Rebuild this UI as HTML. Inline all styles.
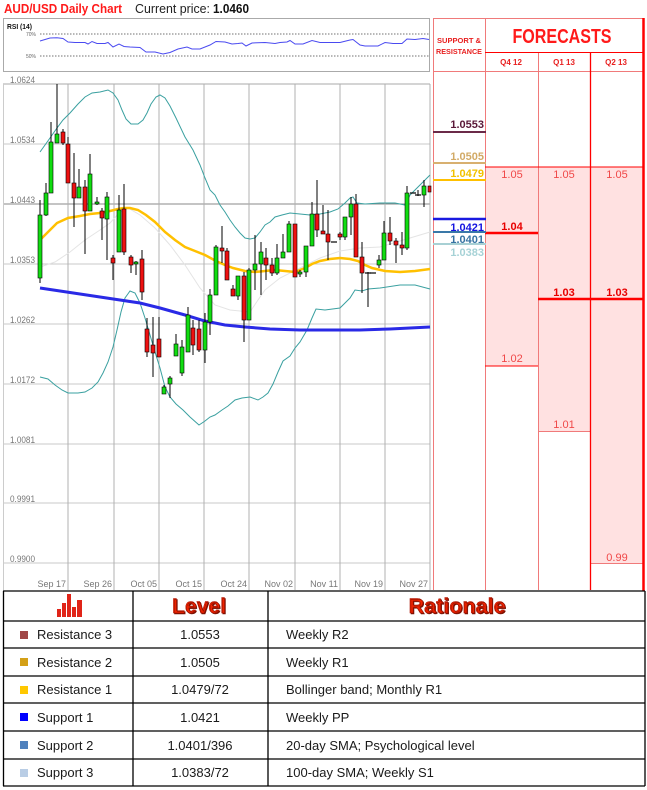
<!DOCTYPE html>
<html><head><meta charset="utf-8"><style>
html,body{margin:0;padding:0;background:#fff;}
svg{display:block;font-family:"Liberation Sans",Arial,sans-serif;}
</style></head><body>
<svg width="647" height="790" viewBox="0 0 647 790" xmlns="http://www.w3.org/2000/svg">
<rect width="647" height="790" fill="#fff"/>
<!-- Header -->
<text x="4" y="13" font-size="13" font-weight="bold" fill="#ff1a1a" textLength="118" lengthAdjust="spacingAndGlyphs">AUD/USD Daily Chart</text>
<text x="135" y="13" font-size="13" fill="#222" textLength="75" lengthAdjust="spacingAndGlyphs">Current price:</text>
<text x="213" y="13" font-size="13" font-weight="bold" fill="#111" textLength="36" lengthAdjust="spacingAndGlyphs">1.0460</text>

<!-- RSI -->
<rect x="3.5" y="18.5" width="426" height="53" fill="#fff" stroke="#aaa"/>
<text x="7" y="29" font-size="7" font-weight="bold" fill="#111" textLength="25" lengthAdjust="spacingAndGlyphs">RSI (14)</text>
<text x="26" y="36" font-size="5" fill="#666">70%</text>
<text x="26" y="58" font-size="5" fill="#666">50%</text>
<line x1="40" y1="34" x2="429" y2="34" stroke="#444" stroke-dasharray="1.5,1.5" stroke-width="0.8"/>
<line x1="40" y1="56" x2="429" y2="56" stroke="#444" stroke-dasharray="1.5,1.5" stroke-width="0.8"/>
<polyline fill="none" stroke="#4a4af0" stroke-width="1" points="40,41 50,38 57,37.7 63,38.5 68,42 75,42.5 85,42.5 88,44 92,41.5 97,43.5 105,43.5 108,42.5 113,47 119,44 124,46.5 130,47 140,47.5 146,52 155,52 163,54 170,52.5 178,49 187,47 192,49 200,49 210,45 216,41.5 225,42 232,44 238,43.5 242,43 246,46 252,43 265,42.5 275,43.5 280,42.5 287,42 290,40.5 295,44 303,44 312,40.5 320,42.5 340,42.5 350,40 353,39.5 360,45 365,46 378,46 385,42.5 393,43.5 402,43.5 407,39 415,39.5 423,38.5 429,39.5"/>

<!-- Main chart grid -->
<g stroke="#c8c8c8" stroke-width="1">
<line x1="3" y1="84" x2="430" y2="84" stroke="#aaa"/>
<line x1="3" y1="144" x2="430" y2="144"/>
<line x1="3" y1="204" x2="430" y2="204" stroke="#8a8a8a"/>
<line x1="3" y1="264" x2="430" y2="264"/>
<line x1="3" y1="324" x2="430" y2="324"/>
<line x1="3" y1="384" x2="430" y2="384"/>
<line x1="3" y1="444" x2="430" y2="444"/>
<line x1="3" y1="503" x2="430" y2="503"/>
<line x1="3" y1="563" x2="430" y2="563"/>
<line x1="3.5" y1="84" x2="3.5" y2="590" stroke="#ccc"/>
<line x1="68" y1="84" x2="68" y2="590" stroke="#b0b0b0"/>
<line x1="114" y1="84" x2="114" y2="590" stroke="#b0b0b0"/>
<line x1="159" y1="84" x2="159" y2="590" stroke="#b0b0b0"/>
<line x1="204" y1="84" x2="204" y2="590" stroke="#b0b0b0"/>
<line x1="249" y1="84" x2="249" y2="590" stroke="#b0b0b0"/>
<line x1="295" y1="84" x2="295" y2="590" stroke="#b0b0b0"/>
<line x1="340" y1="84" x2="340" y2="590" stroke="#b0b0b0"/>
<line x1="385" y1="84" x2="385" y2="590" stroke="#b0b0b0"/>
<line x1="430" y1="84" x2="430" y2="590" stroke="#b0b0b0"/>
</g>
<g font-size="9" fill="#777">
<text x="10" y="83" textLength="25" lengthAdjust="spacingAndGlyphs">1.0624</text>
<text x="10" y="143" textLength="25" lengthAdjust="spacingAndGlyphs">1.0534</text>
<text x="10" y="203" textLength="25" lengthAdjust="spacingAndGlyphs">1.0443</text>
<text x="10" y="263" textLength="25" lengthAdjust="spacingAndGlyphs">1.0353</text>
<text x="10" y="323" textLength="25" lengthAdjust="spacingAndGlyphs">1.0262</text>
<text x="10" y="383" textLength="25" lengthAdjust="spacingAndGlyphs">1.0172</text>
<text x="10" y="443" textLength="25" lengthAdjust="spacingAndGlyphs">1.0081</text>
<text x="10" y="502" textLength="25" lengthAdjust="spacingAndGlyphs">0.9991</text>
<text x="10" y="562" textLength="25" lengthAdjust="spacingAndGlyphs">0.9900</text>
</g>
<g font-size="9" fill="#777" text-anchor="end">
<text x="66" y="587">Sep 17</text>
<text x="112" y="587">Sep 26</text>
<text x="157" y="587">Oct 05</text>
<text x="202" y="587">Oct 15</text>
<text x="247" y="587">Oct 24</text>
<text x="293" y="587">Nov 02</text>
<text x="338" y="587">Nov 11</text>
<text x="383" y="587">Nov 19</text>
<text x="428" y="587">Nov 27</text>
</g>

<!-- Indicator lines -->
<polyline fill="none" stroke="#e4e4e4" stroke-width="1" points="40,267 55,262 70,252 85,240 100,230 110,223 120,212 128,208 140,215 155,228 170,245 185,265 200,288 215,305 230,310 250,312 258,300 265,290 280,278 300,268 320,258 340,251 360,248 380,247 400,241 430,232"/>
<polyline fill="none" stroke="#3aa0a0" stroke-width="1" points="40,152 50,138 57,128 63,120 70,113 78,104 85,97 92,93 100,92 108,90 113,93 118,100 122,110 126,119 131,124 138,124 143,120 147,113 151,104 156,97 160,95 165,98 170,106 176,118 185,137 193,150 200,165 205,178 210,190 215,195 220,205 225,212 230,220 235,227 240,233 245,238 250,239 255,238 260,232 265,225 270,222 275,217 282,215 290,213 300,214 310,215 320,214 330,212 338,209 345,203 350,198 353,197 357,203 365,204 380,203 395,203 405,205 410,195 415,190 420,185 425,180 430,175"/>
<polyline fill="none" stroke="#3aa0a0" stroke-width="1" points="40,377 48,379 55,385 62,390 68,393 78,393 85,392 92,388 98,382 103,373 108,362 113,347 117,330 121,312 125,298 130,291 135,293 140,303 145,318 150,335 155,352 160,368 165,387 170,397 176,404 183,410 190,417 199,425 205,421 210,417 215,415 222,410 228,406 235,400 242,398 250,397 258,400 263,397 268,393 273,384 278,372 283,361 290,356 295,348 300,342 307,330 312,318 316,309 325,310 340,308 350,298 355,290 362,291 368,289 380,288 400,285 415,285 430,289"/>
<polyline fill="none" stroke="#2a2ae6" stroke-width="3" points="40,288 60,291 80,294 100,297 120,300 140,303 160,308 185,315 205,321 225,325 245,327 270,329 300,330 330,330 360,330 390,329 430,327"/>
<polyline fill="none" stroke="#ffc000" stroke-width="2.5" points="40,240 48,232 57,223 68,218 80,216 90,214 100,213 110,211 118,209 124,208 130,208 138,210 146,215 155,222 165,232 175,240 185,247 195,251 205,255 216,261 225,265 233,268 245,271 255,272 265,271 275,270 285,271 295,272 305,268 312,264 320,261 330,259 340,258 350,259 358,261 365,265 372,268 385,271 400,272 415,271 430,269"/>

<!-- Candles: wicks -->
<g stroke="#000" stroke-width="1">
<line x1="40" y1="200" x2="40" y2="283"/><line x1="46" y1="183" x2="46" y2="216"/><line x1="51" y1="122" x2="51" y2="193"/><line x1="57" y1="84" x2="57" y2="143"/><line x1="63" y1="129" x2="63" y2="145"/><line x1="68" y1="137" x2="68" y2="183"/><line x1="74" y1="153" x2="74" y2="227"/><line x1="79" y1="169" x2="79" y2="198"/><line x1="85" y1="180" x2="85" y2="254"/><line x1="90" y1="154" x2="90" y2="211"/><line x1="97" y1="197" x2="97" y2="205"/><line x1="102" y1="208" x2="102" y2="240"/><line x1="107" y1="192" x2="107" y2="260"/><line x1="113" y1="255" x2="113" y2="280"/><line x1="119" y1="195" x2="119" y2="252"/><line x1="124" y1="184" x2="124" y2="255"/><line x1="131" y1="255" x2="131" y2="273"/><line x1="136" y1="261" x2="136" y2="275"/><line x1="142" y1="250" x2="142" y2="300"/><line x1="147" y1="318" x2="147" y2="357"/><line x1="153" y1="317" x2="153" y2="377"/><line x1="159" y1="317" x2="159" y2="357"/><line x1="164" y1="385" x2="164" y2="394"/><line x1="170" y1="376" x2="170" y2="398"/><line x1="176" y1="334" x2="176" y2="356"/><line x1="182" y1="340" x2="182" y2="376"/><line x1="188" y1="307" x2="188" y2="352"/><line x1="193" y1="320" x2="193" y2="355"/><line x1="199" y1="320" x2="199" y2="352"/><line x1="205" y1="313" x2="205" y2="363"/><line x1="210" y1="289" x2="210" y2="335"/><line x1="216" y1="245" x2="216" y2="295"/><line x1="222" y1="226" x2="222" y2="263"/><line x1="227" y1="248" x2="227" y2="280"/><line x1="233" y1="285" x2="233" y2="296"/><line x1="238" y1="276" x2="238" y2="300"/><line x1="244" y1="272" x2="244" y2="342"/><line x1="249" y1="268" x2="249" y2="320"/><line x1="255" y1="235" x2="255" y2="290"/><line x1="261" y1="242" x2="261" y2="295"/><line x1="266" y1="248" x2="266" y2="280"/><line x1="272" y1="258" x2="272" y2="276"/><line x1="277" y1="244" x2="277" y2="275"/><line x1="283" y1="234" x2="283" y2="258"/><line x1="289" y1="221" x2="289" y2="252"/><line x1="295" y1="224" x2="295" y2="277"/><line x1="300" y1="270" x2="300" y2="277"/><line x1="306" y1="246" x2="306" y2="277"/><line x1="312" y1="202" x2="312" y2="246"/><line x1="317" y1="180" x2="317" y2="237"/><line x1="323" y1="205" x2="323" y2="234"/><line x1="328" y1="210" x2="328" y2="260"/><line x1="340" y1="232" x2="340" y2="240"/><line x1="345" y1="217" x2="345" y2="240"/><line x1="351" y1="197" x2="351" y2="235"/><line x1="356" y1="194" x2="356" y2="257"/><line x1="362" y1="242" x2="362" y2="293"/><line x1="368" y1="272" x2="368" y2="307"/><line x1="379" y1="255" x2="379" y2="268"/><line x1="384" y1="221" x2="384" y2="260"/><line x1="390" y1="217" x2="390" y2="245"/><line x1="396" y1="238" x2="396" y2="263"/><line x1="402" y1="232" x2="402" y2="255"/><line x1="407" y1="186" x2="407" y2="250"/><line x1="418" y1="190" x2="418" y2="196"/><line x1="424" y1="180" x2="424" y2="207"/>
<line x1="331" y1="242" x2="337" y2="242" stroke-width="1.2"/><line x1="365" y1="273" x2="371" y2="273" stroke-width="1.2"/><line x1="370" y1="273" x2="376" y2="273" stroke-width="1.2"/><line x1="410" y1="193" x2="416" y2="193" stroke-width="1.2"/><line x1="415" y1="195" x2="421" y2="195" stroke-width="1.2"/>
</g>
<!-- Candles: bodies -->
<g stroke="#000" stroke-width="0.6">
<g fill="#11dd11">
<rect x="38" y="215" width="4" height="63"/><rect x="44" y="193" width="4" height="22"/><rect x="49" y="142" width="4" height="51"/><rect x="55" y="134" width="4" height="9"/><rect x="77" y="187" width="4" height="11"/><rect x="88" y="174" width="4" height="37"/><rect x="95" y="202" width="4" height="2"/><rect x="105" y="197" width="4" height="22"/><rect x="117" y="210" width="4" height="42"/><rect x="134" y="262" width="4" height="2"/><rect x="162" y="387" width="4" height="7"/><rect x="168" y="378" width="4" height="6"/><rect x="174" y="344" width="4" height="12"/><rect x="180" y="347" width="4" height="26"/><rect x="186" y="315" width="4" height="37"/><rect x="203" y="322" width="4" height="28"/><rect x="208" y="295" width="4" height="27"/><rect x="214" y="247" width="4" height="48"/><rect x="236" y="276" width="4" height="20"/><rect x="247" y="270" width="4" height="50"/><rect x="253" y="264" width="4" height="6"/><rect x="259" y="252" width="4" height="12"/><rect x="275" y="258" width="4" height="15"/><rect x="281" y="252" width="4" height="6"/><rect x="287" y="224" width="4" height="28"/><rect x="298" y="272" width="4" height="2"/><rect x="304" y="246" width="4" height="26"/><rect x="310" y="214" width="4" height="32"/><rect x="343" y="217" width="4" height="20"/><rect x="349" y="204" width="4" height="13"/><rect x="377" y="260" width="4" height="5"/><rect x="382" y="233" width="4" height="27"/><rect x="405" y="193" width="4" height="55"/><rect x="422" y="186" width="4" height="9"/>
</g>
<g fill="#ee1111">
<rect x="61" y="132" width="4" height="11"/><rect x="66" y="144" width="4" height="39"/><rect x="72" y="183" width="4" height="15"/><rect x="83" y="187" width="4" height="24"/><rect x="100" y="211" width="4" height="7"/><rect x="111" y="258" width="4" height="5"/><rect x="122" y="209" width="4" height="43"/><rect x="129" y="257" width="4" height="8"/><rect x="140" y="259" width="4" height="33"/><rect x="145" y="329" width="4" height="23"/><rect x="151" y="345" width="4" height="8"/><rect x="157" y="339" width="4" height="18"/><rect x="191" y="328" width="4" height="17"/><rect x="197" y="329" width="4" height="21"/><rect x="220" y="248" width="4" height="3"/><rect x="225" y="251" width="4" height="29"/><rect x="231" y="289" width="4" height="7"/><rect x="242" y="276" width="4" height="44"/><rect x="264" y="258" width="4" height="7"/><rect x="270" y="265" width="4" height="8"/><rect x="293" y="224" width="4" height="53"/><rect x="315" y="214" width="4" height="16"/><rect x="321" y="231" width="4" height="3"/><rect x="326" y="234" width="4" height="8"/><rect x="338" y="234" width="4" height="3"/><rect x="354" y="204" width="4" height="53"/><rect x="360" y="257" width="4" height="16"/><rect x="388" y="233" width="4" height="8"/><rect x="394" y="241" width="4" height="4"/><rect x="400" y="245" width="4" height="3"/><rect x="428" y="186" width="3" height="6"/>
</g>
</g>

<!-- Right panel -->
<rect x="485" y="167" width="53" height="199" fill="#ffe1e1"/>
<rect x="538" y="167" width="52" height="264" fill="#ffe1e1"/>
<rect x="590" y="167" width="53" height="396" fill="#ffe1e1"/>
<g stroke="#f07a7a" stroke-width="1">
<line x1="433" y1="18.5" x2="643" y2="18.5"/>
<line x1="433.5" y1="18" x2="433.5" y2="590"/>
<line x1="485.5" y1="18" x2="485.5" y2="590"/>
<line x1="433" y1="71.5" x2="643" y2="71.5"/>
<line x1="538.5" y1="52" x2="538.5" y2="590"/>
<line x1="538" y1="431.5" x2="590" y2="431.5"/>
<line x1="590" y1="563.5" x2="643" y2="563.5"/>
</g>
<g stroke="#ff0000">
<line x1="485" y1="52.5" x2="643" y2="52.5" stroke-width="1"/>
<line x1="590.5" y1="52" x2="590.5" y2="590" stroke-width="1.3"/>
<line x1="643.5" y1="18" x2="643.5" y2="591" stroke-width="2.5"/>
<line x1="485" y1="167" x2="643" y2="167" stroke-width="1"/>
<line x1="485" y1="233" x2="538" y2="233" stroke-width="2.5"/>
<line x1="538" y1="299" x2="643" y2="299" stroke-width="2.5"/>
<line x1="485" y1="366" x2="538" y2="366" stroke-width="1"/>
</g>
<text x="459" y="43" font-size="7.3" font-weight="bold" fill="#e82020" text-anchor="middle" textLength="44" lengthAdjust="spacingAndGlyphs">SUPPORT &amp;</text>
<text x="459" y="54" font-size="7.3" font-weight="bold" fill="#e82020" text-anchor="middle" textLength="46" lengthAdjust="spacingAndGlyphs">RESISTANCE</text>
<text x="562" y="43" font-size="20" font-weight="bold" fill="#ff1a1a" text-anchor="middle" textLength="99" lengthAdjust="spacingAndGlyphs">FORECASTS</text>
<g font-size="8" font-weight="bold" fill="#e82020" text-anchor="middle">
<text x="511" y="65">Q4 12</text><text x="564" y="65">Q1 13</text><text x="616" y="65">Q2 13</text>
</g>
<g font-size="11" fill="#f04848" text-anchor="middle">
<text x="512" y="178">1.05</text><text x="564" y="178">1.05</text><text x="617" y="178">1.05</text>
<text x="512" y="362">1.02</text><text x="564" y="428">1.01</text><text x="617" y="561">0.99</text>
</g>
<g font-size="11" font-weight="bold" fill="#e80000" text-anchor="middle">
<text x="512" y="230">1.04</text><text x="564" y="296">1.03</text><text x="617" y="296">1.03</text>
</g>
<!-- S&R levels -->
<g font-size="11" font-weight="bold" text-anchor="end">
<text x="484" y="128" fill="#5a1838">1.0553</text>
<text x="484" y="160" fill="#d2aa66">1.0505</text>
<text x="484" y="177" fill="#f2c200">1.0479</text>
<text x="484" y="231" fill="#1414e0">1.0421</text>
<text x="484" y="243" fill="#3572a2">1.0401</text>
<text x="484" y="256" fill="#a6d2d6">1.0383</text>
</g>
<g>
<line x1="433" y1="132" x2="486" y2="132" stroke="#6b2a48" stroke-width="2"/>
<line x1="433" y1="163" x2="486" y2="163" stroke="#d8b070" stroke-width="2"/>
<line x1="433" y1="180" x2="486" y2="180" stroke="#ffc000" stroke-width="2"/>
<line x1="433" y1="219" x2="486" y2="219" stroke="#1a1ae0" stroke-width="2.5"/>
<line x1="433" y1="232" x2="486" y2="232" stroke="#3a78a8" stroke-width="2"/>
<line x1="433" y1="244" x2="486" y2="244" stroke="#a8d0d4" stroke-width="2"/>
</g>

<!-- Table -->
<g stroke="#000" stroke-width="1.3">
<line x1="3" y1="591" x2="645" y2="591"/>
<line x1="3" y1="621" x2="645" y2="621"/>
<line x1="3" y1="648" x2="645" y2="648"/>
<line x1="3" y1="676" x2="645" y2="676"/>
<line x1="3" y1="703" x2="645" y2="703"/>
<line x1="3" y1="731" x2="645" y2="731"/>
<line x1="3" y1="759" x2="645" y2="759"/>
<line x1="3" y1="786" x2="645" y2="786"/>
<line x1="3.5" y1="591" x2="3.5" y2="786"/>
<line x1="133" y1="591" x2="133" y2="786"/>
<line x1="268" y1="591" x2="268" y2="786"/>
<line x1="645" y1="591" x2="645" y2="786"/>
</g>
<g fill="#e02418">
<rect x="57" y="609" width="4" height="8"/>
<rect x="62" y="603" width="4" height="14"/>
<rect x="67" y="594" width="4" height="23"/>
<rect x="72" y="607" width="4" height="10"/>
<rect x="77" y="600" width="5" height="17"/>
</g>
<g font-size="21" font-weight="bold" fill="#ee2200" text-anchor="middle" style="text-shadow:1px 1px 0 #7a1000">
<text x="199" y="613" textLength="54" lengthAdjust="spacingAndGlyphs" stroke="#a01000" stroke-width="0.4">Level</text>
<text x="457" y="613" textLength="97" lengthAdjust="spacingAndGlyphs" stroke="#a01000" stroke-width="0.4">Rationale</text>
</g>
<rect x="20" y="631" width="8" height="8" fill="#a04646"/>
<rect x="20" y="658" width="8" height="8" fill="#d4a017"/>
<rect x="20" y="686" width="8" height="8" fill="#ffc800"/>
<rect x="20" y="713" width="8" height="8" fill="#0000ff"/>
<rect x="20" y="741" width="8" height="8" fill="#4f81bd"/>
<rect x="20" y="769" width="8" height="8" fill="#b9cde5"/>
<g font-size="13" fill="#1a1a1a">
<text x="37" y="639">Resistance 3</text>
<text x="37" y="667">Resistance 2</text>
<text x="37" y="694">Resistance 1</text>
<text x="37" y="722">Support 1</text>
<text x="37" y="750">Support 2</text>
<text x="37" y="777">Support 3</text>
<text x="286" y="639">Weekly R2</text>
<text x="286" y="667">Weekly R1</text>
<text x="286" y="694">Bollinger band; Monthly R1</text>
<text x="286" y="722">Weekly PP</text>
<text x="286" y="750">20-day SMA; Psychological level</text>
<text x="286" y="777">100-day SMA; Weekly S1</text>
</g>
<g font-size="13" fill="#1a1a1a" text-anchor="middle">
<text x="200" y="639">1.0553</text>
<text x="200" y="667">1.0505</text>
<text x="200" y="694">1.0479/72</text>
<text x="200" y="722">1.0421</text>
<text x="200" y="750">1.0401/396</text>
<text x="200" y="777">1.0383/72</text>
</g>
</svg>
</body></html>
